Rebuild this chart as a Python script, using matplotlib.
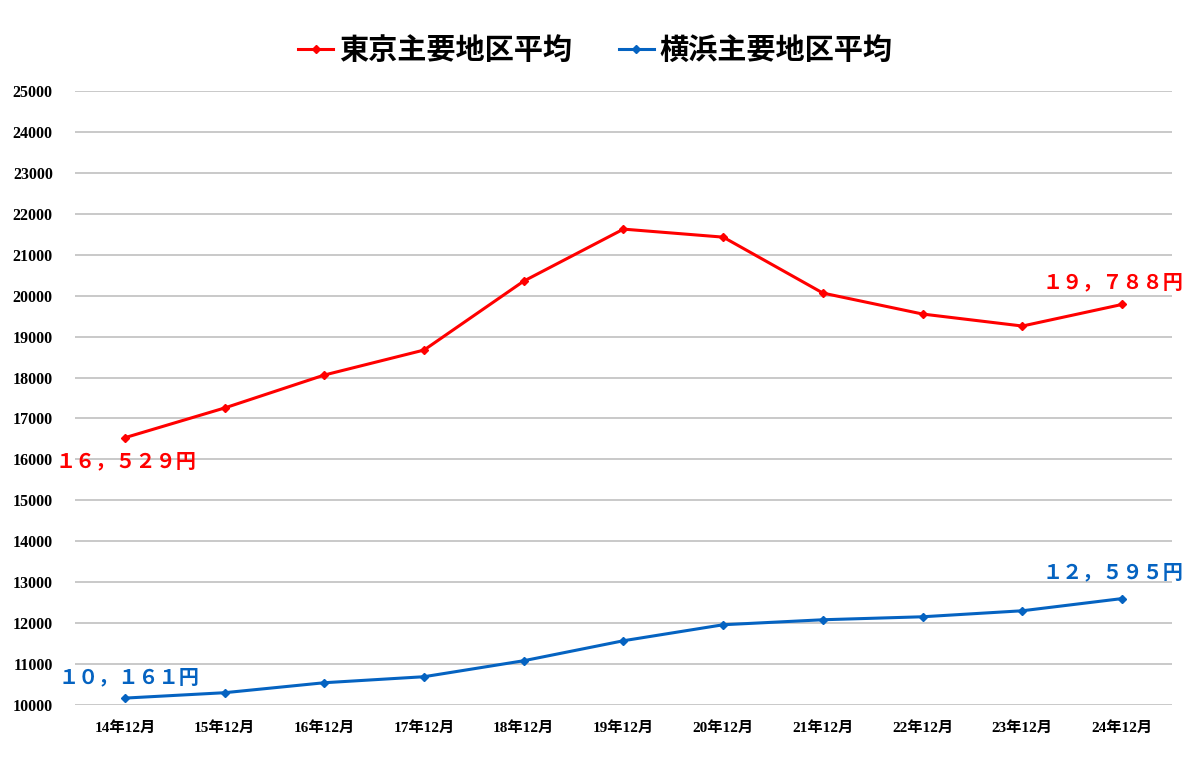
import numpy as np
import matplotlib
matplotlib.use("Agg")
import matplotlib.pyplot as plt

months = ['14年12月', '15年12月', '16年12月', '17年12月', '18年12月', '19年12月',
          '20年12月', '21年12月', '22年12月', '23年12月', '24年12月']
tokyo = [16529, 17256, 18062, 18673, 20359, 21630, 21434, 20066, 19553, 19260, 19788]
yokohama = [10161, 10293, 10537, 10684, 11075, 11564, 11955, 12077, 12150, 12297, 12595]
yticks = np.arange(10000, 25001, 1000)

red = '#FF0000'
blue = '#0563C1'
fam = ['Liberation Serif', 'Noto Sans CJK JP']
cjk = ['Noto Sans CJK JP', 'DejaVu Sans']

fig = plt.figure(figsize=(11.91, 7.61), dpi=100)
ax = fig.add_axes([0.063, 0.074, 0.921, 0.806])

x = np.arange(len(months))
ax.plot(x, tokyo, color=red, lw=2.2, marker='D', ms=4.5, label='東京主要地区平均')
ax.plot(x, yokohama, color=blue, lw=2.2, marker='D', ms=4.5, label='横浜主要地区平均')

ax.set_xlim(-0.5, len(months) - 0.5)
ax.set_ylim(10000, 25000)
ax.set_yticks(yticks)
ax.set_yticklabels([str(v) for v in yticks], family=fam, fontweight='bold', fontsize=11.5)
ax.set_xticks(x)
ax.set_xticklabels(months, family=fam, fontweight='bold', fontsize=11)
ax.tick_params(axis='y', length=0, pad=16)
ax.tick_params(axis='x', length=0, pad=12)
ax.grid(axis='y', color='#c0c0c0', lw=1.2)
ax.set_axisbelow(True)
for s in ax.spines.values():
    s.set_visible(False)

def fw(n):
    s = f'{n:,}'.replace(',', '，')
    return s.translate(str.maketrans('0123456789', '０１２３４５６７８９')) + '円'

labels = [(fw(tokyo[0]), x[0], tokyo[0], red, (-50, -17)),
          (fw(yokohama[0]), x[0], yokohama[0], blue, (-47.5, 15)),
          (fw(tokyo[-1]), x[-1], tokyo[-1], red, (-57, 16)),
          (fw(yokohama[-1]), x[-1], yokohama[-1], blue, (-57, 19))]
for txt, xi, yi, c, off in labels:
    ax.annotate(txt, (xi, yi), xytext=off, textcoords='offset points',
                color=c, fontsize=14.5, fontweight='bold', family=cjk, ha='left', va='center')

fig.legend(loc='center', bbox_to_anchor=(0.5, 0.934), ncol=2, frameon=False,
           prop={'family': cjk, 'weight': 'bold', 'size': 21}, handlelength=1.2,
           columnspacing=1.6, handletextpad=0.2)

fig.savefig('out.png', dpi=100)
